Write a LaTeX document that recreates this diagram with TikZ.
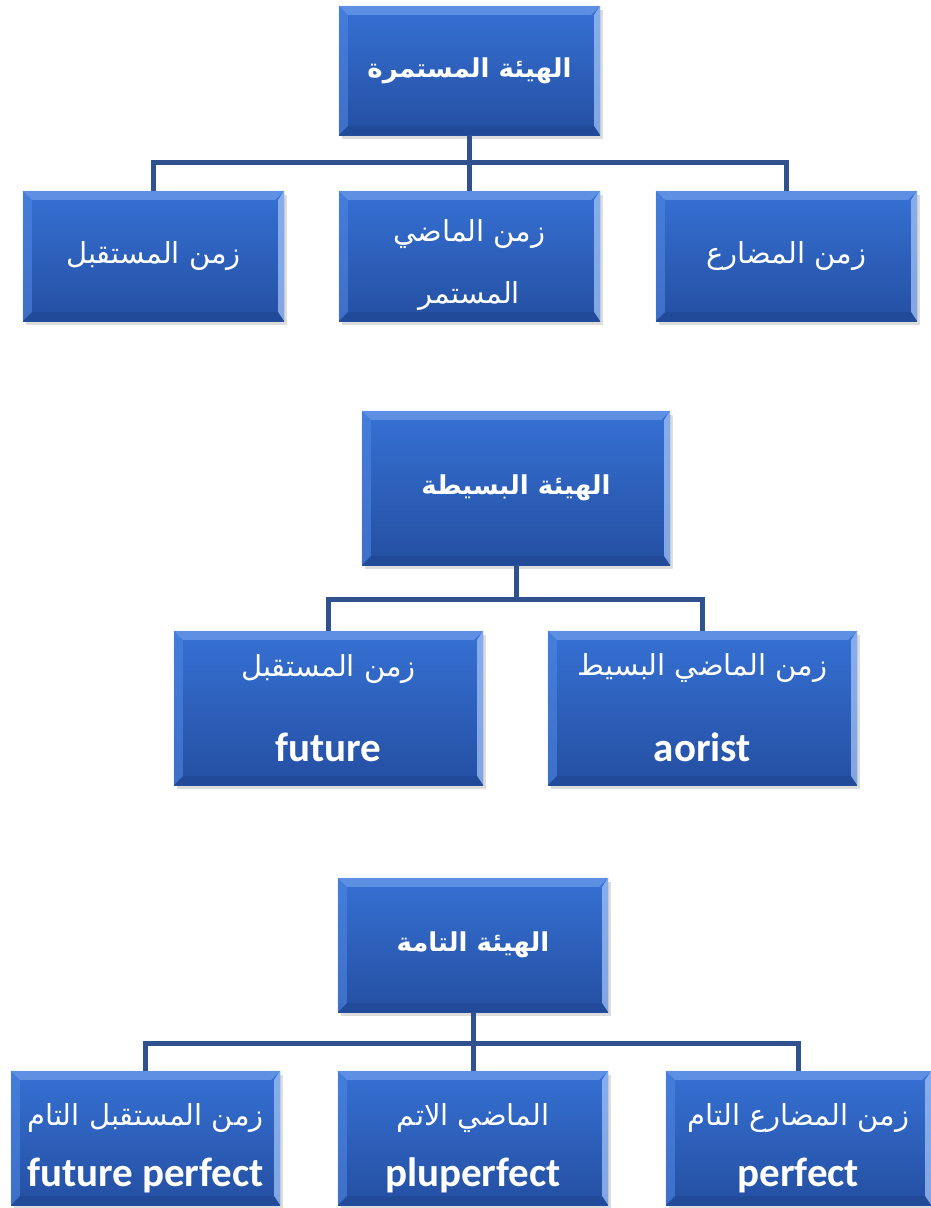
\documentclass[tikz,border=0pt]{standalone}
\usepackage{fontspec}
\usetikzlibrary{shadows,calc}
\TeXXeTstate=1
\newfontfamily\arabicfont[Script=Arabic]{DejaVu Sans}
\newfontfamily\enfont{Carlito}
\definecolor{boxtop}{HTML}{3671D4}
\definecolor{boxbot}{HTML}{244FA2}
\definecolor{connc}{HTML}{2F528F}
\definecolor{bvtop}{HTML}{6E9EEB}
\definecolor{bvleft}{HTML}{4F86E2}
\definecolor{bvright}{HTML}{9ABCF3}
\definecolor{bvbot}{HTML}{1F468F}
\tikzset{
  tbox/.style={rectangle, inner sep=0pt, text=white, align=center,
    top color=boxtop, bottom color=boxbot, draw=none,
    drop shadow={opacity=0.28, shadow xshift=3pt, shadow yshift=-4pt}},
  conn/.style={draw=connc, line width=5pt, line join=miter},
}
\newcommand{\AR}[1]{{\arabicfont\fontsize{29}{34}\selectfont\beginR #1\endR}}
\newcommand{\ARB}[1]{{\arabicfont\bfseries\fontsize{26}{32}\selectfont\beginR #1\endR}}
\newcommand{\EN}[1]{{\enfont\bfseries\fontsize{41}{46}\selectfont #1}}
\newcommand{\bevel}[1]{%
  \fill[bvtop,opacity=0.7] (#1.north west) -- (#1.north east) -- ([shift={(-9pt,-9pt)}]#1.north east) -- ([shift={(9pt,-9pt)}]#1.north west) -- cycle;
  \fill[bvleft,opacity=0.6] (#1.north west) -- ([shift={(9pt,-9pt)}]#1.north west) -- ([shift={(9pt,9pt)}]#1.south west) -- (#1.south west) -- cycle;
  \fill[bvright,opacity=0.8] (#1.north east) -- ([shift={(-6pt,-9pt)}]#1.north east) -- ([shift={(-6pt,9pt)}]#1.south east) -- (#1.south east) -- cycle;
  \fill[bvbot,opacity=0.5] (#1.south west) -- ([shift={(9pt,9pt)}]#1.south west) -- ([shift={(-6pt,9pt)}]#1.south east) -- (#1.south east) -- cycle;
}
\begin{document}
\begin{tikzpicture}[x=1pt,y=-1pt]
\useasboundingbox (0,0) rectangle (931,1208);
% ---------- group 1
\node[tbox, minimum width=261pt, minimum height=129pt] (t1) at (469.5,70.5) {\ARB{الهيئة المستمرة}};
\node[tbox, minimum width=261pt, minimum height=130pt] (c1l) at (153.5,256) {\AR{زمن المستقبل}};
\node[tbox, minimum width=261pt, minimum height=130pt] (c1m) at (469.5,256) {\rule{0pt}{40pt}\AR{زمن الماضي}\\[31pt]\AR{المستمر}};
\node[tbox, minimum width=261pt, minimum height=130pt] (c1r) at (786.5,256) {\AR{زمن المضارع}};
\foreach \n in {t1,c1l,c1m,c1r} {\bevel{\n}}
\coordinate (j1) at (469.5,162);
\draw[conn] (t1.south) -- (c1m.north);
\draw[conn] (c1l.north) |- (j1) -| (c1r.north);
% ---------- group 2
\node[tbox, minimum width=308pt, minimum height=154pt] (t2) at (516,488) {\ARB{الهيئة البسيطة}};
\node[tbox, minimum width=309pt, minimum height=154pt] (c2l) at (328.5,708) {\AR{زمن المستقبل}\\[49pt]\EN{future}};
\node[tbox, minimum width=309pt, minimum height=154pt] (c2r) at (702.5,708) {\AR{زمن الماضي البسيط}\\[49pt]\EN{aorist}};
\foreach \n in {t2,c2l,c2r} {\bevel{\n}}
\coordinate (j2) at (516,599);
\draw[conn] (t2.south) -- (j2);
\draw[conn] (c2l.north) |- (j2) -| (c2r.north);
% ---------- group 3
\node[tbox, minimum width=270pt, minimum height=134pt] (t3) at (473,945) {\ARB{الهيئة التامة}};
\node[tbox, minimum width=269pt, minimum height=134pt] (c3l) at (145.5,1138) {\rule{0pt}{42pt}\AR{زمن المستقبل التام}\\[24pt]\EN{future perfect}};
\node[tbox, minimum width=270pt, minimum height=134pt] (c3m) at (473,1138) {\rule{0pt}{42pt}\AR{الماضي الاتم}\\[24pt]\EN{pluperfect}};
\node[tbox, minimum width=265pt, minimum height=134pt] (c3r) at (798.5,1138) {\rule{0pt}{42pt}\AR{زمن المضارع التام}\\[24pt]\EN{perfect}};
\foreach \n in {t3,c3l,c3m,c3r} {\bevel{\n}}
\coordinate (j3) at (473,1043);
\draw[conn] (t3.south) -- (c3m.north);
\draw[conn] (c3l.north) |- (j3) -| (c3r.north);
\end{tikzpicture}
\end{document}
